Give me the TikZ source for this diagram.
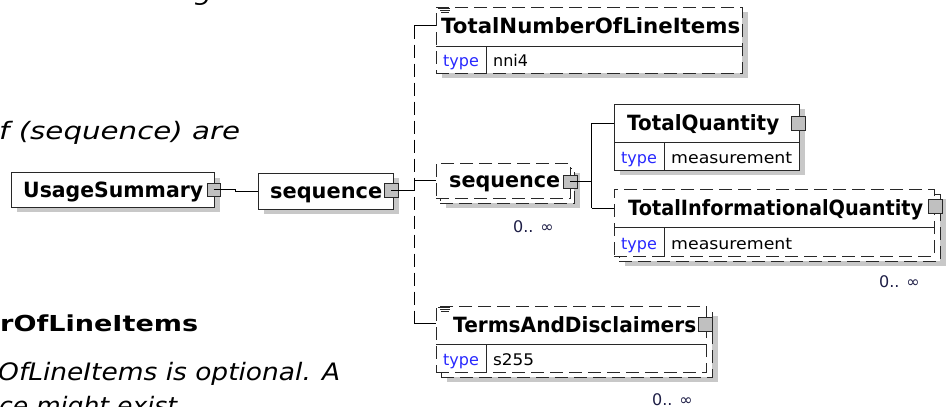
\documentclass[tikz,border=0pt]{standalone}
\usepackage{fontspec}
\usetikzlibrary{fit,calc}
\newfontfamily\dv[ItalicFont={DejaVu Sans Oblique},BoldFont={DejaVu Sans Bold},BoldItalicFont={DejaVu Sans Bold Oblique}]{DejaVu Sans}
\definecolor{bdr}{RGB}{40,40,40}
\definecolor{shd}{RGB}{200,200,200}
\definecolor{hnd}{RGB}{192,192,192}
\definecolor{typec}{RGB}{40,40,255}
\definecolor{mult}{RGB}{30,30,70}
\newcommand\fitw[2]{\resizebox{#1pt}{\height}{#2}}
\begin{document}
\begin{tikzpicture}[x=1pt,y=-1pt,
  ebox/.style={draw=bdr, fill=white, line width=1pt, inner sep=0pt},
  dbox/.style={ebox, dash pattern=on 13pt off 6pt},
  ttl/.style={font=\dv\bfseries\fontsize{21}{24}\selectfont, inner sep=0pt, anchor=base west},
  small/.style={font=\dv\fontsize{16}{19}\selectfont, inner sep=0pt, anchor=base west},
  typelbl/.style={small, text=typec},
  mul/.style={small, text=mult},
  handle/.style={draw=bdr, fill=hnd, line width=0.8pt, inner sep=0pt},
  conn/.style={draw=black, line width=1pt},
  bus/.style={conn, dash pattern=on 13pt off 6pt},
  divl/.style={draw=bdr, line width=1pt},
  doc/.style={draw=bdr, line width=0.9pt},
  para/.style={font=\dv\itshape\fontsize{24}{28}\selectfont, inner sep=0pt, anchor=base west},
  parab/.style={font=\dv\bfseries\fontsize{22}{26}\selectfont, inner sep=0pt, anchor=base west},
]
\useasboundingbox (0,0) rectangle (946,407);
\fill[white] (0,0) rectangle (946,407);

% surrounding document text
\node[para] (g) at (194,0) {\fitw{18}{g}};
\node[para] (l1) at (-1,139) {\fitw{241}{f (sequence) are}};
\node[parab] (l2) at (0,331) {\fitw{198}{rOfLineItems}};
\node[para] (l3) at (-2,380) {\fitw{342}{OfLineItems is optional. A}};
\node[para] (l4) at (-1,414) {\fitw{178}{ce might exist}};

% shadows
\fill[shd] (17,178) rectangle (220,212);
\fill[shd] (264,178) rectangle (399,214);
\fill[shd] (442,12) rectangle (748,78);
\fill[shd] (446,173) rectangle (580,208);
\fill[shd] (620,109) rectangle (805,175);
\fill[shd] (625,199) rectangle (946,266);
\fill[shd] (447,316) rectangle (718,382);

% boxes
\node[ebox, fit={(11,172)(214,207)}] (us) {};
\node[ebox, fit={(258,173)(393,209)}] (seq1) {};
\node[dbox, fit={(436,7)(742,73)}] (tnli) {};
\node[dbox, fit={(440,168)(574,203)}] (seq2b) {};
\node[dbox, fit={(436,163)(570,198)}] (seq2) {};
\node[ebox, fit={(614,104)(799,170)}] (tq) {};
\node[dbox, fit={(619,194)(940,261)}] (tiqb) {};
\node[dbox, fit={(614,189)(934,256)}] (tiq) {};
\node[dbox, fit={(441,311)(712,377)}] (tadb) {};
\node[dbox, fit={(436,306)(706,372)}] (tad) {};

% dividers
\draw[divl] (436,46) -- (742,46);  \draw[divl] (486,46) -- (486,73);
\draw[divl] (614,142) -- (799,142); \draw[divl] (664,142) -- (664,170);
\draw[divl] (614,227) -- (934,227); \draw[divl] (664,227) -- (664,256);
\draw[divl] (436,344) -- (706,344); \draw[divl] (486,344) -- (486,372);

% documentation icons
\draw[doc] (438,8.5) -- (450,8.5) (440,10.5) -- (450,10.5) (441,12.5) -- (449,12.5);
\draw[doc] (438,307.5) -- (450,307.5) (440,309.5) -- (450,309.5) (441,311.5) -- (449,311.5);

% titles
\node[ttl] (usT) at (23,197) {\fitw{180}{UsageSummary}};
\node[ttl] (seq1T) at (270,198) {\fitw{112}{sequence}};
\node[ttl] (tnliT) at (441,33.5) {\fitw{299}{TotalNumberOfLineItems}};
\node[ttl] (seq2T) at (449,187.5) {\fitw{111}{sequence}};
\node[ttl] (tqT) at (627,130) {\fitw{152}{TotalQuantity}};
\node[ttl] (tiqT) at (628,215) {\fitw{295}{TotalInformationalQuantity}};
\node[ttl] (tadT) at (453,332) {\fitw{243}{TermsAndDisclaimers}};

% type rows
\node[typelbl] (tnliTy) at (443,66) {type};   \node[small] (tnliV) at (493,66) {nni4};
\node[typelbl] (tqTy) at (621,163) {type};    \node[small] (tqV) at (671,163) {\fitw{121}{measurement}};
\node[typelbl] (tiqTy) at (621,249) {type};   \node[small] (tiqV) at (671,249) {\fitw{121}{measurement}};
\node[typelbl] (tadTy) at (443,365) {type};   \node[small] (tadV) at (493,365) {\fitw{41}{s255}};

% multiplicities
\node[mul] (seq2M) at (513,232) {0.. ∞};
\node[mul] (tiqM) at (879,287) {0.. ∞};
\node[mul] (tadM) at (652,405) {0.. ∞};

% handles
\node[handle, fit={(207,183)(220,196)}] (usH) {};
\node[handle, fit={(384,183)(398,197)}] (seq1H) {};
\node[handle, fit={(563,175)(577,188)}] (seq2H) {};
\node[handle, fit={(791,116)(805,130)}] (tqH) {};
\node[handle, fit={(928,199)(942,213)}] (tiqH) {};
\node[handle, fit={(698,317)(712,331)}] (tadH) {};

% connector anchors
\coordinate (bx) at (414,0);
\coordinate (by) at (591.5,0);
\coordinate (tnliIn) at (436,25.5);
\coordinate (tadIn) at (436,323);
\coordinate (tqIn) at (614,123);
\coordinate (tiqIn) at (614,208);

% connectors
\draw[conn] (usH.center) -| ($(usH.center)!0.5!(seq1.west)$) |- (seq1.west);
\draw[conn] (seq1H.center) -- (bx |- seq1H.center);
\draw[bus] (bx |- tnliIn) -- (bx |- tadIn);
\draw[conn] (bx |- tnliIn) -- (tnliIn);
\draw[conn] (bx |- seq2.west) -- (seq2.west);
\draw[conn] (bx |- tadIn) -- (tadIn);
\draw[conn] (seq2H.center) -- (by |- seq2H.center);
\draw[conn] (by |- tqIn) -- (by |- tiqIn);
\draw[conn] (by |- tqIn) -- (tqIn);
\draw[conn] (by |- tiqIn) -- (tiqIn);
\end{tikzpicture}
\end{document}
